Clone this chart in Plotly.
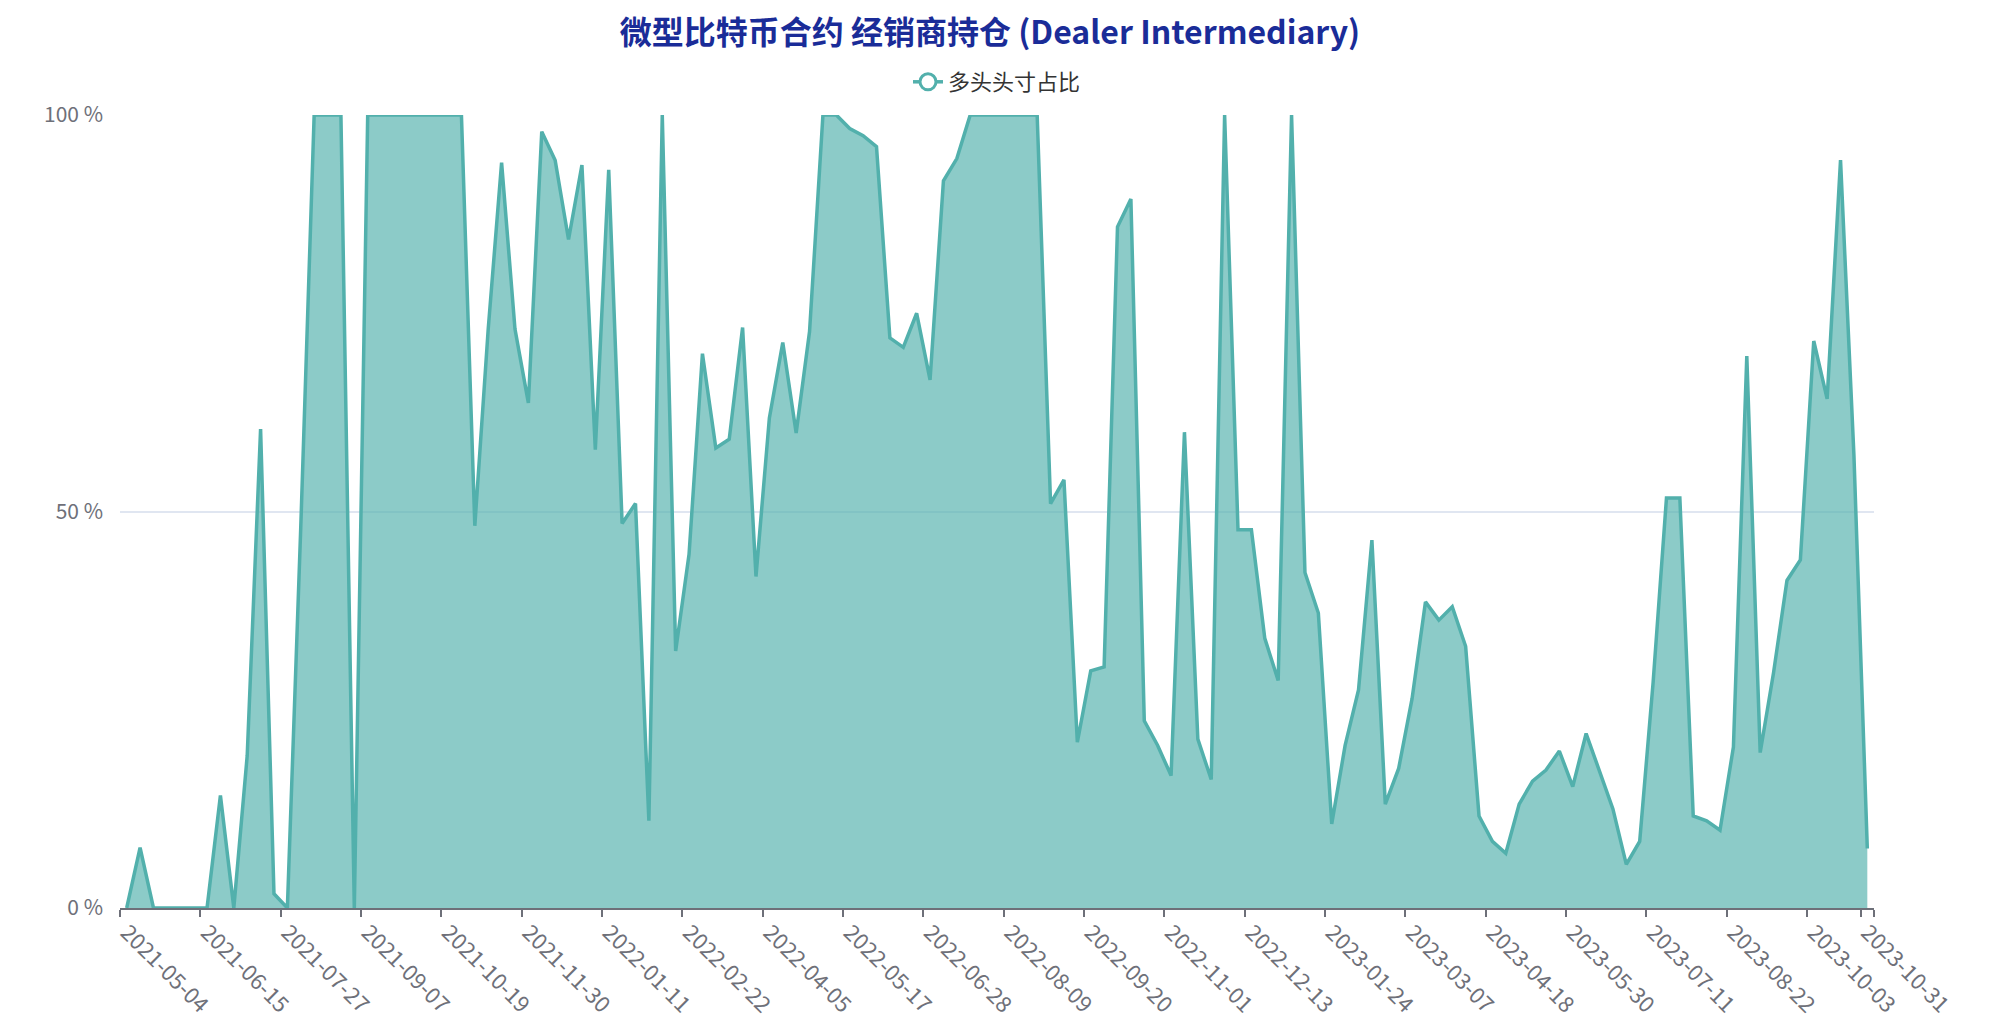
import pandas as pd
import plotly.graph_objects as go

title_text = "微型比特币合约 经销商持仓 (Dealer Intermediary)"
series_name = "多头头寸占比"

# weekly report dates (categories)
dates = pd.date_range("2021-05-04", "2023-10-31", freq="7D")

# long-position share (%) per week
long_share = [
    0, 7.6, 0, 0, 0, 0, 0, 14.2, 0, 19.2,
    60.4, 1.8, 0, 48, 100, 100, 100, 0, 100, 100,
    100, 100, 100, 100, 100, 100, 48.2, 73, 94, 73,
    63.7, 97.9, 94.3, 84.3, 93.7, 57.8, 93.1, 48.5, 51, 11,
    100, 32.4, 44.6, 69.9, 58, 59.1, 73.2, 41.8, 61.8, 71.3,
    59.9, 72.7, 100, 100, 98.3, 97.4, 96, 71.9, 70.7, 75,
    66.6, 91.7, 94.5, 100, 100, 100, 100, 100, 100, 51,
    54, 20.9, 29.9, 30.4, 85.9, 89.4, 23.6, 20.5, 16.7, 60,
    21.3, 16.2, 100, 47.7, 47.7, 34, 28.7, 100, 42.3, 37.2,
    10.6, 20.5, 27.5, 46.4, 13.1, 17.6, 26.4, 38.6, 36.3, 38,
    33, 11.6, 8.4, 6.9, 13.1, 16, 17.4, 19.8, 15.3, 22,
    17.2, 12.5, 5.5, 8.4, 28.4, 51.7, 51.7, 11.6, 11, 9.8,
    20.3, 69.6, 19.6, 29.7, 41.3, 43.9, 71.5, 64.2, 94.3, 57.1,
    7.5,
]

tick_labels = [
    "2021-05-04", "2021-06-15", "2021-07-27", "2021-09-07", "2021-10-19",
    "2021-11-30", "2022-01-11", "2022-02-22", "2022-04-05", "2022-05-17",
    "2022-06-28", "2022-08-09", "2022-09-20", "2022-11-01", "2022-12-13",
    "2023-01-24", "2023-03-07", "2023-04-18", "2023-05-30", "2023-07-11",
    "2023-08-22", "2023-10-03", "2023-10-31",
]
y_ticks = [0, 50, 100]
y_tick_labels = ["0 %", "50 %", "100 %"]

LINE = "#52b0ac"
FILL = "rgba(85,178,174,0.68)"
AXIS = "#6e7079"
GRID = "#e0e6f1"
FONT = "Noto Sans CJK SC"

half = pd.Timedelta(hours=84)
# ticks at category boundaries (category-axis look)
tickvals = [(pd.Timestamp(t) - half).isoformat() for t in tick_labels]
ticktext = list(tick_labels)
end_boundary = (dates[-1] + half).isoformat()
tickvals.append(end_boundary)
ticktext.append("")

fig = go.Figure()
fig.add_trace(go.Scatter(
    x=dates, y=long_share, mode="lines",
    line=dict(color=LINE, width=3.5),
    fill="tozeroy", fillcolor=FILL,
    name=series_name, showlegend=False,
))
# legend entry (line + hollow circle symbol)
fig.add_trace(go.Scatter(
    x=[None], y=[None], mode="lines+markers",
    line=dict(color=LINE, width=3.5),
    marker=dict(symbol="circle", size=16, color="white",
                line=dict(color=LINE, width=3)),
    name=series_name, showlegend=True,
))

fig.update_layout(
    width=2003, height=1028,
    margin=dict(l=112, r=137, t=107, b=128, autoexpand=False),
    paper_bgcolor="white", plot_bgcolor="white",
    font=dict(family=FONT, color=AXIS, size=20),
    title=dict(
        text=f"<b>{title_text}</b>",
        font=dict(family=FONT, size=32, color="#1a2c98"),
        x=0.496, xanchor="center", xref="paper",
        y=1 - 25 / 1028, yanchor="middle", yref="container",
    ),
    legend=dict(
        orientation="h", x=0.5, xanchor="center",
        y=1 + 33 / 793, yanchor="middle",
        font=dict(family=FONT, size=22, color="#333333"),
        bgcolor="rgba(0,0,0,0)",
    ),
    showlegend=True,
)

fig.update_xaxes(
    type="date", automargin=False,
    range=[(dates[0] - half).isoformat(), end_boundary],
    tickmode="array", tickvals=tickvals, ticktext=ticktext,
    tickangle=45, ticklabelstandoff=-6, ticklabelshift=7,
    ticks="outside", ticklen=7, tickwidth=1.5, tickcolor=AXIS,
    showline=True, linecolor=AXIS, linewidth=2,
    showgrid=False, zeroline=False,
    tickfont=dict(family=FONT, size=22, color=AXIS),
)
fig.update_yaxes(
    automargin=False,
    range=[0, 100], tickmode="array", tickvals=y_ticks, ticktext=y_tick_labels,
    ticks="", ticklabelstandoff=16,
    showgrid=True, gridcolor=GRID, gridwidth=1.5,
    zeroline=False, showline=False,
    tickfont=dict(family=FONT, size=21, color=AXIS),
)

fig.write_html("out.html")
